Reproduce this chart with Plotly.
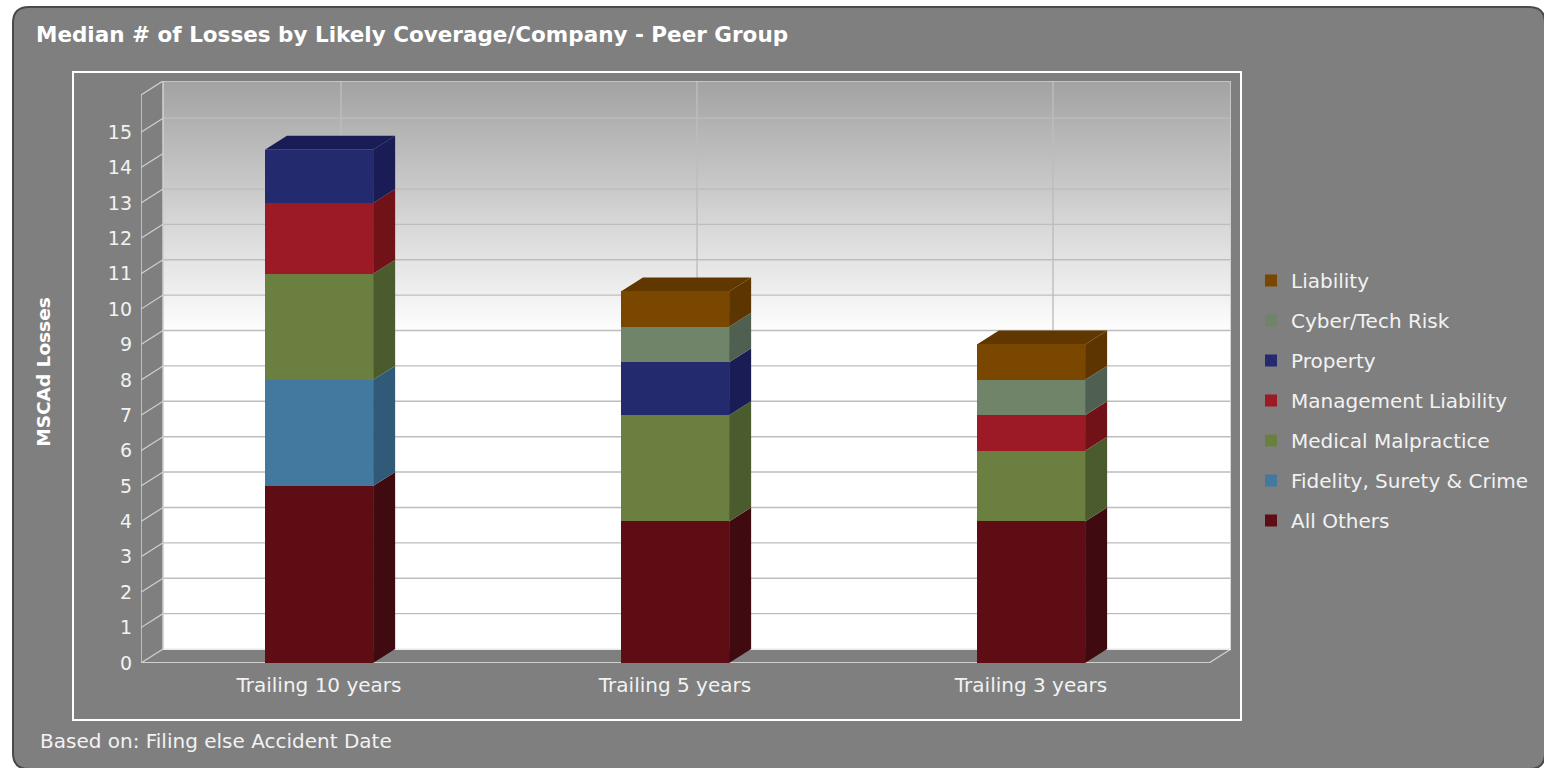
import plotly.graph_objects as go

categories = ["Trailing 10 years", "Trailing 5 years", "Trailing 3 years"]
all_others = [5, 4, 4]
fidelity = [3, 0, 0]
medical = [3, 3, 2]
management = [2, 0, 1]
property_ = [1.5, 1.5, 0]
cyber = [0, 1, 1]
liability = [0, 1, 1]
y_ticks = list(range(16))

series = [
    ("All Others", all_others, "#5f0d14", "#3f0a10", "#4a0a10"),
    ("Fidelity, Surety & Crime", fidelity, "#44799f", "#305a78", "#305a78"),
    ("Medical Malpractice", medical, "#6b8040", "#4a5c2e", "#4a5c2e"),
    ("Management Liability", management, "#9c1a25", "#701218", "#701218"),
    ("Property", property_, "#242a6e", "#1a1d55", "#1a1d55"),
    ("Cyber/Tech Risk", cyber, "#6f8468", "#4f6050", "#4f6050"),
    ("Liability", liability, "#7a4700", "#5c3500", "#613700"),
]

W, H = 1544, 768
L, R, T, B = 141, 313, 81, 105
PW, PH = W - L - R, H - T - B
DX, DY = 0.0619, 0.395      # depth of the pseudo-3D extrusion in axis units
X0, X1 = -0.5, 2.5
Y1 = 16.05
BAR = 0.304
GRID = "#bdbdbd"
EDGE = "#cfcfcf"
TXT = "#f2f2f2"
FONT = "DejaVu Sans"

def px(x):
    return (x - L) / PW

def py(y):
    return (H - B - y) / PH

shapes = []

# Panel and frame (paper coordinates)
r = 16
a, b, c, d = px(13), px(W + 1), py(7), py(H + 1)
rx, ry = r / PW, r / PH
shapes.append(dict(type="path", xref="paper", yref="paper", layer="below",
                   path=f"M{a},{c-ry} Q{a},{c} {a+rx},{c} L{b-rx},{c} Q{b},{c} {b},{c-ry} "
                        f"L{b},{d+ry} Q{b},{d} {b-rx},{d} L{a+rx},{d} Q{a},{d} {a},{d+ry} Z",
                   fillcolor="#7f7f7f", line=dict(color="#4a4a4a", width=2)))
shapes.append(dict(type="rect", xref="paper", yref="paper", layer="below",
                   x0=px(73), x1=px(1241), y0=py(720), y1=py(72),
                   line=dict(color="#ffffff", width=2)))

# Back wall gradient, painted from top to bottom as overlapping bands
top_grey = 0xA3
n_bands = 90
wall_top = Y1 + DY
fade_to = 9.3
for i in range(n_bands):
    t = i / (n_bands - 1)
    v = wall_top + (fade_to - wall_top) * t
    g = round(top_grey + (255 - top_grey) * t)
    shapes.append(dict(type="rect", xref="x", yref="y", layer="below",
                       x0=X0 + DX, x1=X1 + DX, y0=DY, y1=v,
                       fillcolor=f"rgb({g},{g},{g})", line=dict(width=0)))

def line(x0, y0, x1, y1, color=GRID, width=1.4):
    shapes.append(dict(type="line", xref="x", yref="y", layer="below",
                       x0=x0, y0=y0, x1=x1, y1=y1, line=dict(color=color, width=width)))

for v in y_ticks:
    line(X0 + DX, v + DY, X1 + DX, v + DY)
    line(X0, v, X0 + DX, v + DY, EDGE, 1.2)
for i in range(len(categories)):
    line(i + DX, DY, i + DX, wall_top)

# Floor, side wall and outer edges
line(X0, 0, X1, 0, EDGE, 2)
line(X1, 0, X1 + DX, DY, EDGE, 1.4)
line(X0 + DX, DY, X1 + DX, DY, "#ffffff", 1.5)
line(X0, 0, X0, Y1, EDGE, 1.6)
line(X0 + DX, DY, X0 + DX, wall_top, EDGE, 1.6)
line(X1 + DX, DY, X1 + DX, wall_top, EDGE, 1.6)
line(X0, Y1, X0 + DX, wall_top, EDGE, 1.4)
line(X0 + DX, wall_top, X1 + DX, wall_top, EDGE, 1.6)

# Extruded side and top faces of the stacked bars
for i in range(len(categories)):
    base = 0
    top_col = None
    for name, vals, col, side, top in series:
        v = vals[i]
        if v:
            xr = i + BAR / 2
            shapes.append(dict(type="path", xref="x", yref="y", layer="below",
                               path=f"M{xr},{base} L{xr+DX},{base+DY} L{xr+DX},{base+v+DY} L{xr},{base+v} Z",
                               fillcolor=side, line=dict(width=0)))
            base += v
            top_col = top
    xl = i - BAR / 2
    xr = i + BAR / 2
    shapes.append(dict(type="path", xref="x", yref="y", layer="below",
                       path=f"M{xl},{base} L{xl+DX},{base+DY} L{xr+DX},{base+DY} L{xr},{base} Z",
                       fillcolor=top_col, line=dict(width=0)))

fig = go.Figure()
for k, (name, vals, col, side, top) in enumerate(series):
    fig.add_trace(go.Bar(x=categories, y=vals, name=name, width=BAR, legendgroup=name,
                         legendrank=1000 - k,
                         marker=dict(color=col, line=dict(width=0))))

fig.update_layout(
    width=W, height=H, autosize=False,
    barmode="stack",
    paper_bgcolor="#ffffff", plot_bgcolor="rgba(0,0,0,0)",
    margin=dict(l=L, r=R, t=T, b=B, pad=0, autoexpand=False),
    font=dict(family=FONT, color=TXT, size=20),
    title=dict(text="<b>Median # of Losses by Likely Coverage/Company - Peer Group</b>",
               xref="container", yref="container", x=36 / W, y=1 - 34 / H,
               xanchor="left", yanchor="middle",
               font=dict(family=FONT, size=21.5, color="#ffffff")),
    xaxis=dict(type="category", categoryorder="array", categoryarray=categories,
               range=[X0, X1 + DX], showgrid=False, zeroline=False, showline=False,
               ticks="", ticklabelstandoff=8, automargin=False,
               tickfont=dict(size=20, color=TXT)),
    yaxis=dict(range=[0, wall_top], tickvals=y_ticks, showgrid=False, zeroline=False,
               showline=False, ticks="", ticklabelstandoff=8, automargin=False,
               tickfont=dict(size=19, color=TXT),
               title=dict(text="<b>MSCAd Losses</b>", standoff=52,
                          font=dict(size=18.5, color="#ffffff"))),
    legend=dict(x=px(1251), xanchor="left", y=py(261), yanchor="top",
                traceorder="grouped", tracegroupgap=11,
                bgcolor="rgba(0,0,0,0)", font=dict(size=20, color=TXT)),
    shapes=shapes,
    annotations=[dict(text="Based on: Filing else Accident Date", xref="paper", yref="paper",
                      x=px(38), y=py(741), xanchor="left", yanchor="middle", showarrow=False,
                      font=dict(size=20, color=TXT))],
)

fig.write_html("out.html", config={"displayModeBar": False},
               post_script="document.body.style.margin='0';document.body.style.overflow='hidden';")
